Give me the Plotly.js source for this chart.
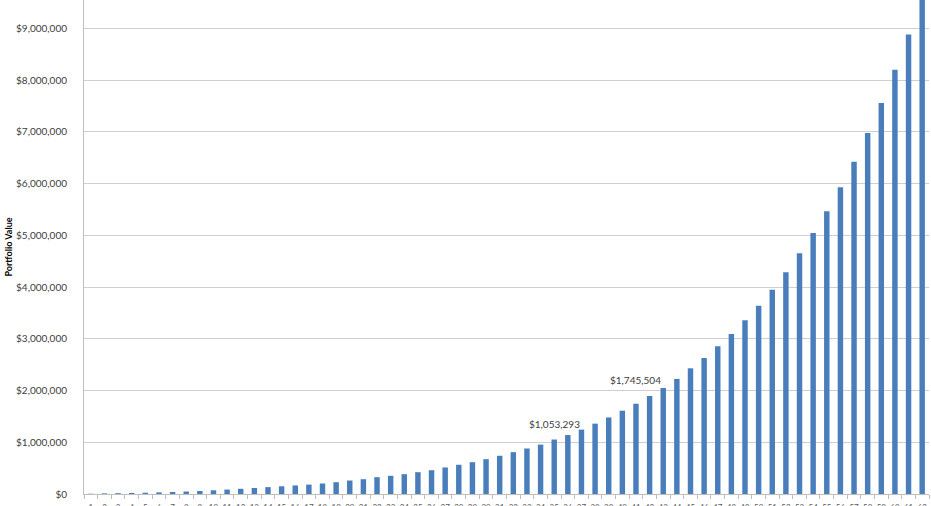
<!DOCTYPE html>
<html>
<head>
<meta charset="utf-8">
<script src="https://cdn.plot.ly/plotly-3.0.1.min.js"></script>
<style>
html,body{margin:0;padding:0;background:#fff;}
#chart{width:931px;height:506px;}
</style>
</head>
<body>
<div id="chart"></div>
<script>
// Category labels (years of saving)
var years = [];
for (var i = 1; i <= 62; i++) { years.push(String(i)); }

// Portfolio value at end of each year (USD)
var portfolioValues = [
  5000, 12000, 16000, 21000, 25000, 31000, 40000, 48000, 58000, 72000,
  86000, 101000, 116000, 133000, 149000, 165000, 182000, 203000, 228000, 261000,
  286000, 325000, 352000, 383000, 422000, 460000, 513000, 565000, 615000, 673000,
  739000, 809000, 880000, 955000, 1053293, 1140000, 1245000, 1360000, 1480000, 1610000,
  1745504, 1895000, 2050000, 2225000, 2430000, 2630000, 2855000, 3095000, 3360000, 3637000,
  3950000, 4286000, 4653000, 5047000, 5465000, 5930000, 6425000, 6980000, 7560000, 8200000,
  8885000, 9630000
];

// Highlighted data labels (index into the series)
var labelIndex = [34, 40];
var labelText = ["$1,053,293", "$1,745,504"];
var labelShift = [8, 16];

var fontFam = "Lato, 'Open Sans', sans-serif";

var trace = {
  type: 'bar',
  x: years,
  y: portfolioValues,
  marker: {color: '#4a7ebb', line: {width: 0}},
  hoverinfo: 'x+y'
};

var annotations = labelIndex.map(function (idx, k) {
  return {
    x: idx,
    y: portfolioValues[idx],
    xref: 'x', yref: 'y',
    text: labelText[k],
    showarrow: false,
    xanchor: 'center',
    yanchor: 'bottom',
    yshift: labelShift[k],
    font: {family: fontFam, size: 10, color: '#404040'}
  };
});

var layout = {
  width: 931,
  height: 506,
  margin: {l: 84, r: 2, t: 0, b: 12, pad: 0},
  paper_bgcolor: '#ffffff',
  plot_bgcolor: '#ffffff',
  showlegend: false,
  bargap: 0.6,
  font: {family: fontFam, size: 10, color: '#404040'},
  xaxis: {
    type: 'category',
    tickson: 'boundaries',
    ticks: 'outside',
    ticklen: 4,
    tickcolor: '#bfbfbf',
    showline: true,
    linecolor: '#bfbfbf',
    linewidth: 1,
    showgrid: false,
    tickangle: 0,
    ticklabelstandoff: 5,
    tickfont: {family: fontFam, size: 8, color: '#595959'},
    automargin: false
  },
  yaxis: {
    range: [0, 9550000],
    dtick: 1000000,
    tickformat: '$,.0f',
    showgrid: true,
    gridcolor: '#cfcfcf',
    gridwidth: 1,
    zeroline: false,
    showline: true,
    linecolor: '#bfbfbf',
    linewidth: 1,
    ticks: '',
    ticklabelstandoff: 14,
    tickfont: {family: fontFam, size: 10, color: '#404040'},
    automargin: false,
    title: {text: 'Portfolio Value', font: {family: fontFam, size: 9, color: '#000000', weight: 'bold'}}
  },
  annotations: annotations
};

Plotly.newPlot('chart', [trace], layout, {displayModeBar: false, staticPlot: true});
</script>
</body>
</html>
